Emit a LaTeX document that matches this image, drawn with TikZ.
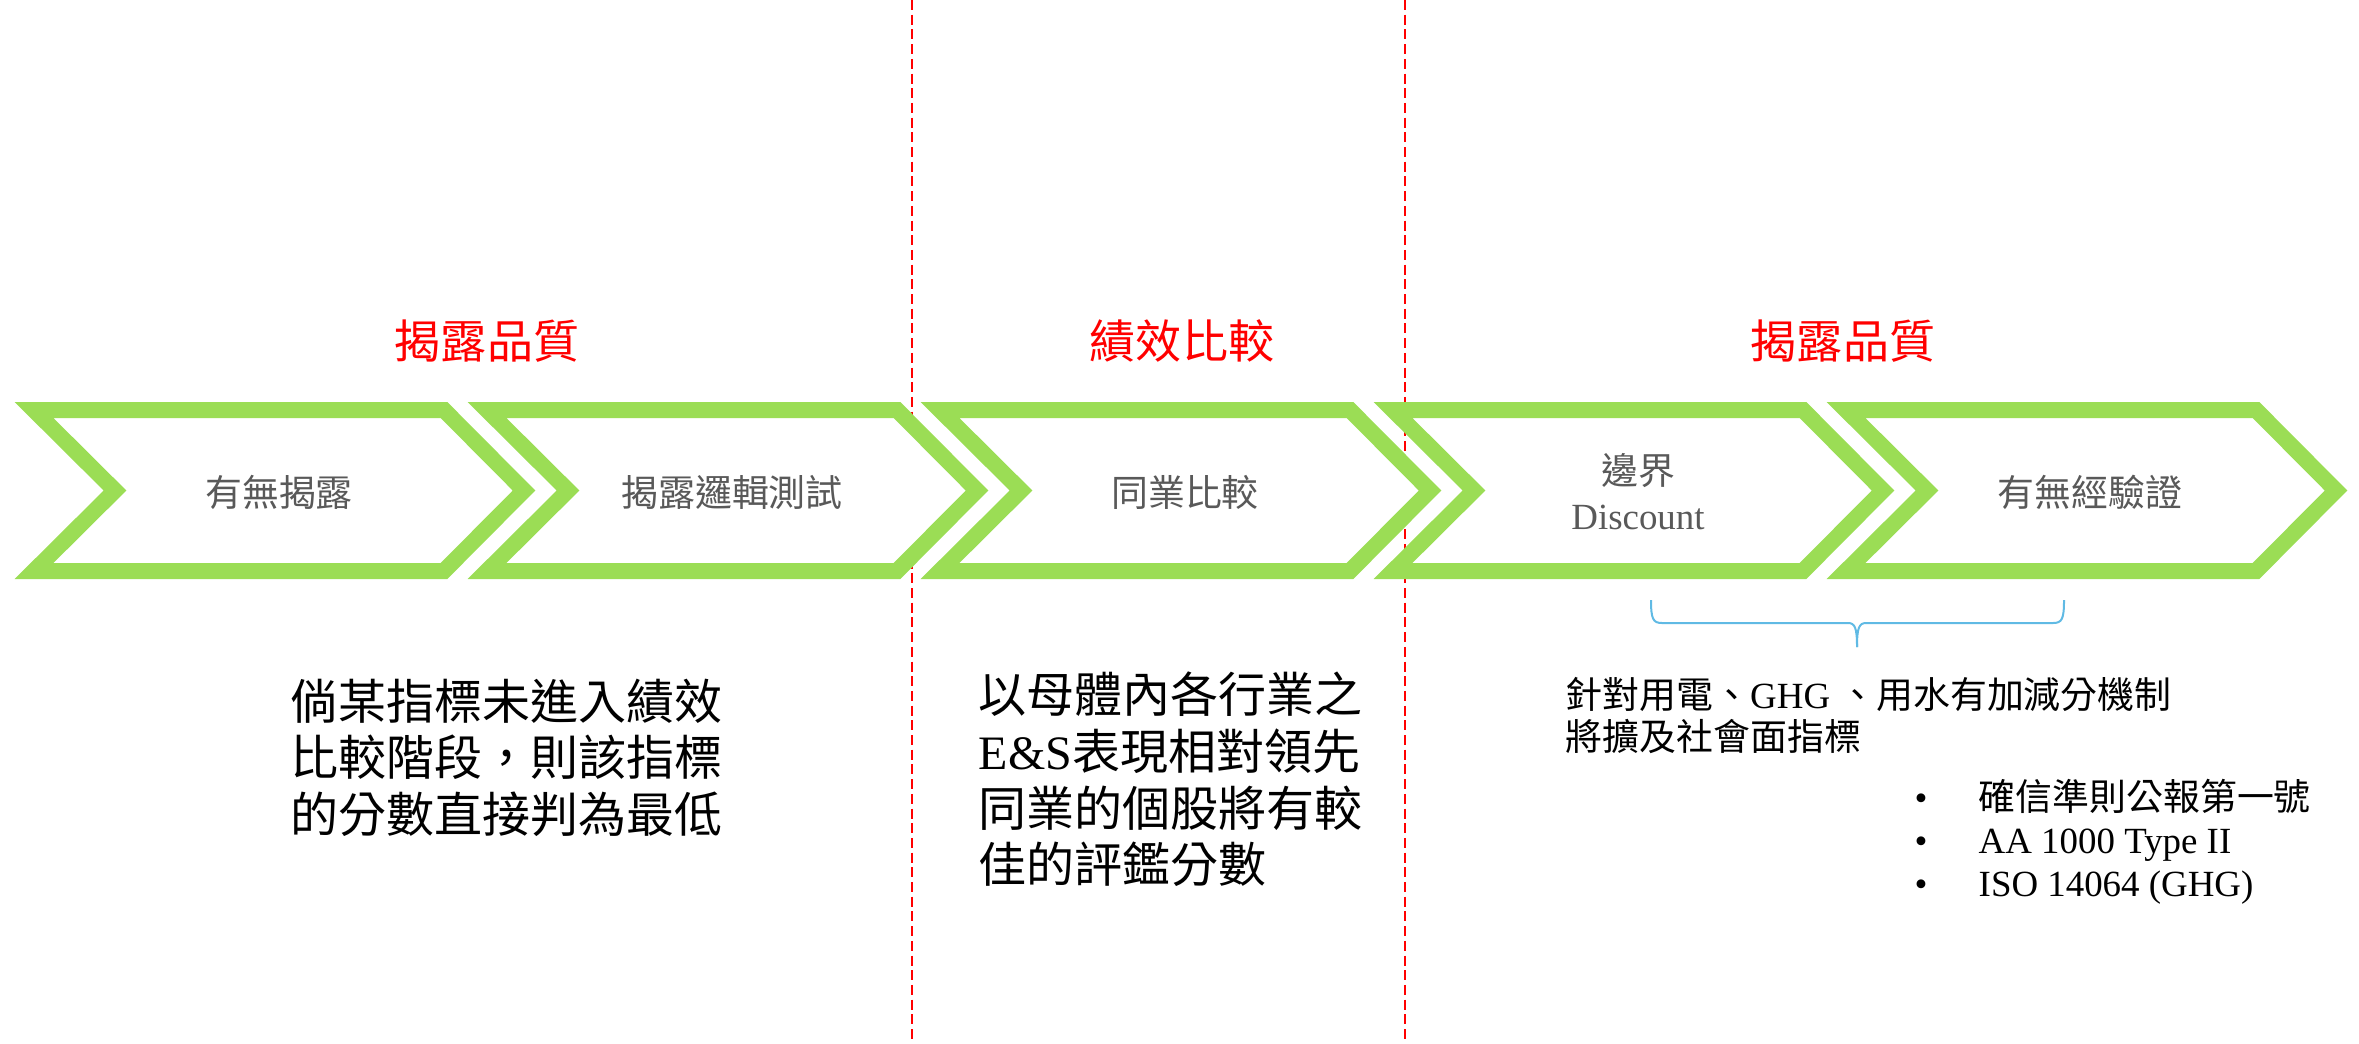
\documentclass[tikz,border=0pt]{standalone}
\usepackage{fontspec}
\setmainfont{Liberation Serif}
\newfontfamily\cjk{Noto Sans CJK TC}
\definecolor{chevgreen}{RGB}{155,221,85}
\definecolor{labelgray}{RGB}{89,89,89}
\definecolor{braceblue}{RGB}{96,186,228}
\tikzset{
  chev/.style={draw=chevgreen, fill=white, line width=1.6mm, line join=miter},
  divider/.style={red, line width=0.15mm, dash pattern=on 1mm off 0.47mm},
  lbl/.style={text=labelgray, inner sep=0pt, align=center, font=\fontsize{10.5}{12.8}\selectfont},
  stage/.style={red, inner sep=0pt, font=\cjk\fontsize{13.1}{15}\selectfont},
  body/.style={inner sep=0pt, align=left, font=\fontsize{13.66}{16.1}\selectfont},
  note/.style={inner sep=0pt, align=left, font=\fontsize{10.5}{12.2}\selectfont},
  bracel/.style={braceblue, line width=0.2mm}
}
\begin{document}
\begin{tikzpicture}[x=0.1mm,y=-0.1mm]
\useasboundingbox (0,0) rectangle (2359,1043);
% dividers between the stages
\draw[divider] (912,0) -- (912,1043);
\draw[divider] (1405,0) -- (1405,1043);
% chevrons
\foreach \i in {0,...,4}
  \draw[chev] ({34+453*\i},410) -- ({444+453*\i},410) -- ({524+453*\i},490.5)
    -- ({444+453*\i},571) -- ({34+453*\i},571) -- ({115+453*\i},490.5) -- cycle;
\node[lbl] (disclose) at (279,492) {\cjk 有無揭露};
\node[lbl] (logic) at (732,492) {\cjk 揭露邏輯測試};
\node[lbl] (peer) at (1185,492) {\cjk 同業比較};
\node[lbl] (bound) at (1638,492) {{\cjk 邊界}\\Discount};
\node[lbl] (verify) at (2090,492) {\cjk 有無經驗證};
% stage titles
\node[stage] (quality1) at (487,341) {揭露品質};
\node[stage] (perform) at (1182,341) {績效比較};
\node[stage] (quality2) at (1843,341) {揭露品質};
% notes
\node[body, anchor=west] (lowest) at (290,757.5)
  {\cjk 倘某指標未進入績效\\\cjk 比較階段，則該指標\\\cjk 的分數直接判為最低};
\node[body, anchor=west] (leader) at (978,779.5)
  {{\cjk 以母體內各行業之}\\E\&S{\cjk 表現相對領先}\\{\cjk 同業的個股將有較}\\{\cjk 佳的評鑑分數}};
\draw[bracel] (1651,600) .. controls (1651,619) and (1653,623) .. (1662,623) -- (1848,623)
  .. controls (1855,623) and (1857,628) .. (1857,647);
\draw[bracel] (2064,600) .. controls (2064,619) and (2062,623) .. (2053,623) -- (1866,623)
  .. controls (1859,623) and (1857,628) .. (1857,647);
\node[note, anchor=west] (extend) at (1565,715.5)
  {{\cjk 針對用電、}GHG {\cjk 、用水有加減分機制}\\{\cjk 將擴及社會面指標}};
\node[note, anchor=west] (assure) at (1914,841.5)
  {\makebox[6.4mm][l]{\textbullet}{\cjk 確信準則公報第一號}\\
   \makebox[6.4mm][l]{\textbullet}AA 1000 Type II\\
   \makebox[6.4mm][l]{\textbullet}ISO 14064 (GHG)};
\end{tikzpicture}
\end{document}
